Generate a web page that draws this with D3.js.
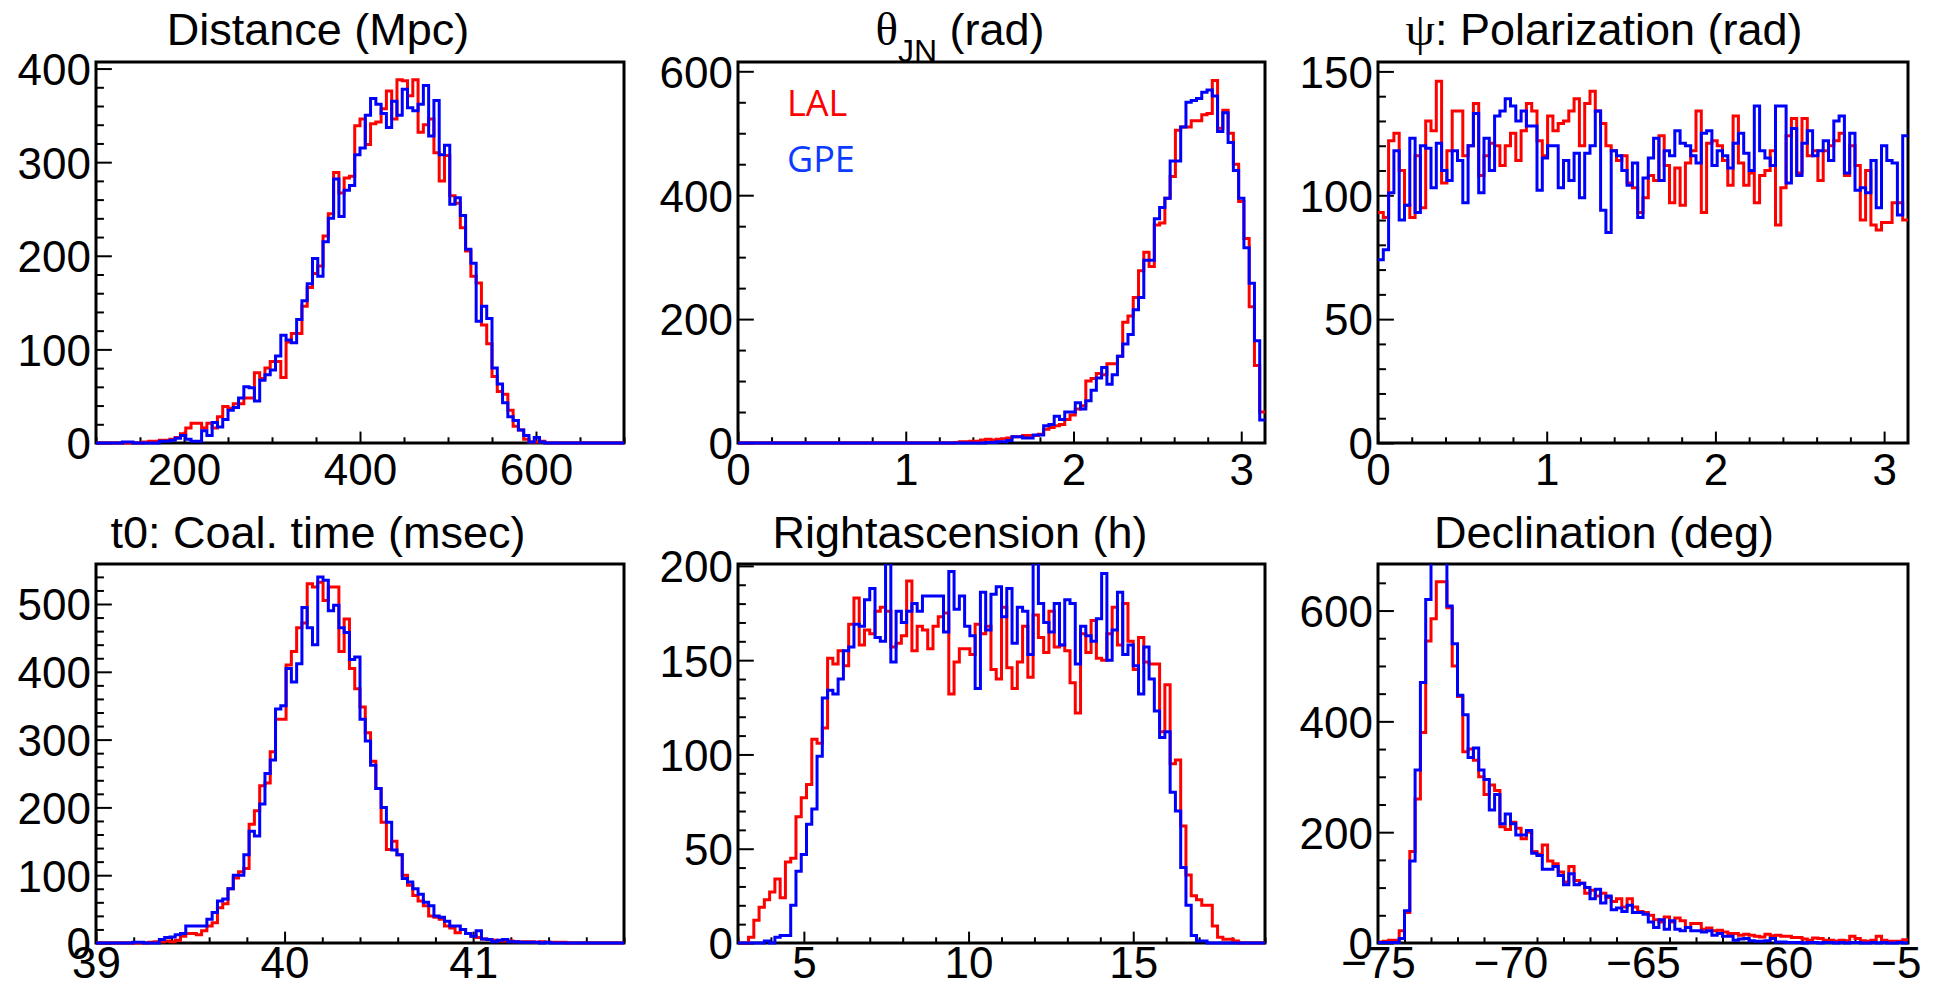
<!DOCTYPE html>
<html>
<head>
<meta charset="utf-8">
<script src="https://cdn.jsdelivr.net/npm/d3@7"></script>
<style>
  body { margin: 0; background: #fff; }
  svg { display: block; }
</style>
</head>
<body>
<svg id="chart" width="1939" height="988"></svg>
<script>
// ---- histogram contents, 100 bins each ----
var distRange = [100, 700];
var distLAL = [0,0,0,0,0,0,0,0,0,1, 2,2,3,3,4,6,10,16,21,21, 16,21,16,28,39,37,42,42,48,48,
  75,69,80,87,87,70,108,117,117,146, 166,181,189,221,245,289,267,283,285,339,
  346,319,341,343,357,376,346,388,387,371, 388,332,340,346,310,280,307,264,256,230,
  205,178,171,126,106,71,55,52,35,18, 14,4,1,1,2,0,0,0,0,0, 0,0,0,0,0,0,0,0,0,0];
var distGPE = [0,0,0,0,0,1,1,0,0,0, 0,0,2,2,3,5,8,4,2,2, 13,8,22,17,25,35,38,48,60,59,
  45,67,73,78,93,115,110,107,132,152, 170,197,178,215,240,282,242,270,275,308,
  315,350,368,362,352,337,365,350,378,358, 355,362,382,328,366,308,318,255,262,243,
  207,192,130,146,133,80,63,43,28,24, 14,8,1,6,1,0,0,0,0,0, 0,0,0,0,0,0,0,0,0,0];

var thetaRange = [0, Math.PI];
var thetaLAL = [0,0,0,0,0,0,0,0,0,0, 0,0,0,0,0,0,0,0,0,0, 0,0,0,0,0,0,0,0,0,0, 0,0,0,0,0,0,0,0,0,0,
  0,1,2,2,3,3,5,6,5,6, 7,8,10,10,12,12,12,14,22,25, 28,30,38,45,55,60,100,104,112,110,
  128,128,140,195,205,235,278,308,285,352, 355,395,430,505,510,510,520,520,530,532,
  585,508,537,500,450,390,330,220,125,50];
var thetaGPE = [0,0,0,0,0,0,0,0,0,0, 0,0,0,0,0,0,0,0,0,0, 0,0,0,0,0,0,0,0,0,0, 0,0,0,0,0,0,0,0,0,0,
  0,0,0,0,0,0,0,1,1,2, 2,4,10,10,8,8,13,13,28,30, 43,38,50,50,65,55,68,85,105,122,
  95,110,140,160,175,215,235,295,295,362, 380,395,455,455,510,550,553,556,566,570,
  560,503,533,485,440,395,315,258,165,37];

var psiRange = [0, Math.PI];
var psiLAL = [93,91,122,125,110,96,91,116,95,130, 126,146,105,118,134,134,116,120,137,108,
  116,121,120,112,120,125,114,126,137,134, 122,116,132,126,129,130,134,139,120,137,
  142,134,129,120,118,114,116,105,103,93, 99,108,106,124,112,97,111,96,113,118,
  134,93,121,122,120,114,104,132,113,104, 109,97,108,110,118,88,103,124,131,109,
  131,116,118,106,118,120,122,125,108,120, 112,90,110,88,86,89,89,97,97,90];
var psiGPE = [74,78,101,118,90,96,123,93,120,119, 103,121,110,106,118,114,97,120,133,101,
  123,110,132,134,139,136,130,134,128,128, 102,115,120,120,103,114,106,117,99,117,
  120,134,94,85,118,116,110,104,113,91, 107,115,123,106,118,116,126,121,120,116,
  113,125,126,112,118,116,111,121,125,117, 110,136,118,115,112,136,136,105,127,108,
  121,126,116,118,122,114,130,132,109,125, 102,103,101,114,95,120,114,113,92,124];

var t0Range = [39, 41.8];
var t0LAL = [0,0,0,0,0,0,0,0,0,0, 1,2,2,3,2,4,10,14,14,12, 18,25,30,52,58,80,96,105,110,175,
  195,232,236,282,330,330,410,430,465,472, 530,525,532,505,525,525,430,478,405,375,
  348,310,268,228,178,138,150,130,100,85, 70,62,55,40,38,35,25,22,15,20,
  14,10,8,6,5,4,3,3,3,2, 2,2,2,1,2,1,1,1,1,0, 0,0,0,0,0,0,0,0,0,0];
var t0GPE = [0,0,0,0,0,0,0,1,1,0, 0,0,5,8,9,12,14,25,25,25, 25,35,45,62,65,80,100,100,130,165,
  158,205,250,270,345,350,405,385,412,495, 465,440,540,535,490,498,465,458,418,422,
  330,298,262,228,200,178,137,130,95,90, 80,72,60,55,40,38,32,25,25,20,
  14,10,18,6,5,2,4,5,2,2, 1,1,1,1,0,1,0,0,0,0, 0,0,0,0,0,0,0,0,0,0];

var raRange = [3, 19];
var raLAL = [0,0,3,12,19,23,27,34,24,43, 45,67,77,84,108,106,114,151,148,155,
  147,169,183,158,166,164,176,178,176,157, 159,163,192,155,168,166,156,168,173,175,
  132,149,156,156,153,169,164,168,145,140, 178,146,135,149,168,141,174,162,154,176,
  157,158,155,138,122,164,154,171,151,150, 164,178,158,180,160,145,162,149,148,148,
  112,137,95,97,62,36,25,23,20,20, 9,3,2,2,1,0,0,0,0,0];
var raGPE = [0,0,0,0,0,1,0,3,4,4, 20,38,47,63,71,99,130,134,132,140,
  155,157,169,168,182,188,162,160,215,149, 176,170,176,180,176,184,184,184,184,165,
  197,177,184,168,163,135,186,166,185,189, 173,188,159,178,176,153,215,180,170,165,
  180,158,182,180,148,168,163,160,172,196, 150,166,186,153,158,147,132,157,140,123,
  109,112,80,70,40,20,4,1,1,0, 0,0,0,0,0,0,0,0,0,0];

var decRange = [-75, -55];
var decLAL = [2,3,5,5,22,55,165,260,380,545, 585,652,652,605,500,445,345,350,330,300,
  268,285,275,210,205,218,207,188,200,165, 160,177,148,143,128,110,138,113,108,90,
  95,85,90,82,75,80,65,80,65,57, 55,50,42,38,47,38,45,40,28,35,
  35,25,27,22,23,20,17,17,14,16, 14,12,11,16,13,14,12,12,10,10,
  7,5,9,8,5,5,3,5,4,12, 8,4,3,5,12,5,3,3,3,6];
var decGPE = [1,1,1,1,8,58,148,312,470,620, 720,735,725,608,540,447,412,335,352,312,
  295,240,268,215,233,215,195,195,203,162, 158,133,133,138,122,105,125,105,108,100,
  80,97,72,85,60,63,57,68,55,55, 52,38,28,42,25,40,25,22,28,22,
  22,20,22,14,17,12,12,5,7,8, 4,3,3,4,8,2,2,1,1,1,
  0,1,1,0,1,1,0,1,0,1, 1,0,0,1,0,1,0,0,1,0];

// axis ranges and tick values
var distYMax = 407, thetaYMax = 615, psiYMax = 153.8, t0YMax = 559, raYMax = 201, decYMax = 684;
var distXTicks = [200, 400, 600], distYTicks = [0, 100, 200, 300, 400];
var thetaXTicks = [0, 1, 2, 3], thetaYTicks = [0, 200, 400, 600];
var psiXTicks = [0, 1, 2, 3], psiYTicks = [0, 50, 100, 150];
var t0XTicks = [39, 40, 41], t0YTicks = [0, 100, 200, 300, 400, 500];
var raXTicks = [5, 10, 15], raYTicks = [0, 50, 100, 150, 200];
var decXTicks = [-75, -70, -65, -60, -55], decYTicks = [0, 200, 400, 600];

var seriesNames = ["LAL", "GPE"];
var seriesColors = ["#ff0000", "#0000ff"];
var legendColors = ["#ff0000", "#0b3bff"];

// ---- layout ----
var cols = [[96, 624], [738, 1265], [1378, 1908]];
var rows = [[62, 443], [564, 943]];
var titleX = [318, 960, 1604];
var titleY = [45, 548];
var labelBase = [42, 35];   // x label baseline below the frame, per row
var FONT = "'Liberation Sans', Arial, Helvetica, sans-serif";
var GREEK = "'Liberation Serif', 'DejaVu Serif', serif";

var panels = [
  { title: [{ t: "Distance (Mpc)" }], range: distRange, yMax: distYMax, lal: distLAL, gpe: distGPE,
    xTicks: distXTicks, xMinor: 50, yTicks: distYTicks, yMinor: 20, col: 0, row: 0 },
  { title: [{ t: "θ", greek: true }, { t: "JN", sub: true }, { t: " (rad)" }], range: thetaRange, yMax: thetaYMax,
    lal: thetaLAL, gpe: thetaGPE, xTicks: thetaXTicks, xMinor: 0.2, yTicks: thetaYTicks, yMinor: 50, col: 1, row: 0, legend: true },
  { title: [{ t: "ψ", greek: true }, { t: ": Polarization (rad)" }], range: psiRange, yMax: psiYMax,
    lal: psiLAL, gpe: psiGPE, xTicks: psiXTicks, xMinor: 0.2, yTicks: psiYTicks, yMinor: 10, col: 2, row: 0 },
  { title: [{ t: "t0: Coal. time (msec)" }], range: t0Range, yMax: t0YMax, lal: t0LAL, gpe: t0GPE,
    xTicks: t0XTicks, xMinor: 0.2, yTicks: t0YTicks, yMinor: 20, col: 0, row: 1 },
  { title: [{ t: "Rightascension (h)" }], range: raRange, yMax: raYMax, lal: raLAL, gpe: raGPE,
    xTicks: raXTicks, xMinor: 1, yTicks: raYTicks, yMinor: 10, col: 1, row: 1 },
  { title: [{ t: "Declination (deg)" }], range: decRange, yMax: decYMax, lal: decLAL, gpe: decGPE,
    xTicks: decXTicks, xMinor: 1, yTicks: decYTicks, yMinor: 50, col: 2, row: 1 }
];

var svg = d3.select("#chart");
var defs = svg.append("defs");

// the last label on the bottom right runs off the canvas
defs.append("clipPath").attr("id", "canvasClip")
  .append("rect").attr("x", 0).attr("y", 0).attr("width", 1921).attr("height", 988);

function minorValues(range, step, major) {
  var lo = Math.ceil(range[0] / step - 1e-6) * step;
  return d3.range(lo, range[1] + 1e-9, step).filter(function(v) {
    return !major.some(function(m) { return Math.abs(m - v) < step / 10; });
  });
}

function styleTicks(g) {
  g.select(".domain").remove();
  g.selectAll(".tick line").attr("stroke", "#000").attr("stroke-width", 2);
  g.selectAll(".tick text").attr("fill", "#000");
}

panels.forEach(function(p, k) {
  var x0 = cols[p.col][0], x1 = cols[p.col][1];
  var y0 = rows[p.row][0], y1 = rows[p.row][1];

  var xScale = d3.scaleLinear().domain(p.range).range([x0, x1]);
  var yScale = d3.scaleLinear().domain([0, p.yMax]).range([y1, y0]);
  var g = svg.append("g");

  // title
  var title = g.append("text")
    .attr("x", titleX[p.col]).attr("y", titleY[p.row])
    .attr("text-anchor", "middle")
    .style("font-family", FONT).style("font-size", "45px");
  p.title.forEach(function(s, i) {
    var ts = title.append("tspan").text(s.t);
    if (s.greek) ts.style("font-family", GREEK).style("font-size", "47px");
    if (s.sub) ts.attr("dy", 17).style("font-size", "32px");
    else if (i > 0 && p.title[i - 1].sub) ts.attr("dy", -17);
  });

  var frameW = x1 - x0, frameH = y1 - y0;
  var xMajorLen = frameH * 0.03, yMajorLen = frameW * 0.03;

  // x axis: major with labels, minor without
  var xAxis = g.append("g").attr("transform", "translate(0," + y1 + ")")
    .call(d3.axisBottom(xScale).tickValues(p.xTicks).tickSize(-xMajorLen).tickPadding(12)
      .tickFormat(d3.format("")))
    .call(styleTicks);
  xAxis.attr("font-family", FONT).attr("font-size", 44);
  xAxis.selectAll(".tick text").attr("y", labelBase[p.row]).attr("dy", null);
  if (k === 5) xAxis.attr("clip-path", "url(#canvasClip)");

  g.append("g").attr("transform", "translate(0," + y1 + ")")
    .call(d3.axisBottom(xScale).tickValues(minorValues(p.range, p.xMinor, p.xTicks))
      .tickSize(-xMajorLen / 2).tickFormat(""))
    .call(styleTicks);

  var yAxis = g.append("g").attr("transform", "translate(" + x0 + ",0)")
    .call(d3.axisLeft(yScale).tickValues(p.yTicks).tickSize(-yMajorLen).tickPadding(5)
      .tickFormat(d3.format("")))
    .call(styleTicks);
  yAxis.attr("font-family", FONT).attr("font-size", 44);
  yAxis.selectAll(".tick text").attr("dy", "0.36em");

  g.append("g").attr("transform", "translate(" + x0 + ",0)")
    .call(d3.axisLeft(yScale).tickValues(minorValues([0, p.yMax], p.yMinor, p.yTicks))
      .tickSize(-yMajorLen / 2).tickFormat(""))
    .call(styleTicks);

  // frame
  g.append("rect")
    .attr("x", x0).attr("y", y0).attr("width", frameW).attr("height", frameH)
    .attr("fill", "none").attr("stroke", "#000").attr("stroke-width", 3);

  // histograms
  var clipId = "clip" + k;
  defs.append("clipPath").attr("id", clipId)
    .append("rect").attr("x", x0).attr("y", y0).attr("width", frameW).attr("height", frameH + 3);

  var nb = p.lal.length;
  var bw = (p.range[1] - p.range[0]) / nb;
  var line = d3.line()
    .x(function(d) { return xScale(d[0]); })
    .y(function(d) { return yScale(d[1]); })
    .curve(d3.curveStepAfter);

  [p.lal, p.gpe].forEach(function(vals, s) {
    var pts = vals.map(function(v, i) { return [p.range[0] + i * bw, v]; });
    pts.push([p.range[1], vals[nb - 1]]);
    g.append("path")
      .attr("clip-path", "url(#" + clipId + ")")
      .attr("d", line(pts))
      .attr("fill", "none")
      .attr("stroke", seriesColors[s])
      .attr("stroke-width", 3)
      .attr("stroke-linejoin", "miter");
  });

  if (p.legend) {
    seriesNames.forEach(function(name, s) {
      g.append("text")
        .attr("x", 787).attr("y", 116 + s * 56)
        .style("font-family", "'Open Sans', sans-serif")
        .style("font-size", "36px")
        .attr("fill", legendColors[s])
        .text(name);
    });
  }
});
</script>
</body>
</html>
